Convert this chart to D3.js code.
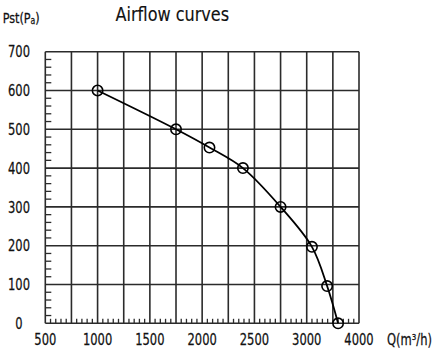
<!DOCTYPE html>
<html><head><meta charset="utf-8">
<script src="https://cdn.jsdelivr.net/npm/d3@7"></script>
<style>
html,body{margin:0;padding:0;background:#fff;}
svg{display:block;}
text{font-family:"DejaVu Sans",sans-serif;font-stretch:condensed;fill:#111;stroke:#111;stroke-width:0.25;}
</style></head>
<body>
<svg id="c" width="440" height="358"></svg>
<script>
// Data
const flowQ = [1000, 1750, 2070, 2390, 2750, 3100, 3390, 3600];   // m³/h
const pressure = [600, 500, 453, 400, 300, 197, 96, 0];          // Pa
const xTickLabels = [500, 1000, 1500, 2000, 2500, 3000, 4000];
const yTickLabels = [0, 100, 200, 300, 400, 500, 600, 700];
const xGridValues = [500, 750, 1000, 1250, 1500, 1750, 2000, 2250, 2500, 2750, 3000, 3500, 4000];
const titleText = "Airflow curves";

const svg = d3.select("#c");
const L = 45.3, R = 359, T = 51.7, B = 323.3;
const step = (R - L) / 12;
// Axis as drawn: 250 per division up to 3000, then 500 per division
const x = d3.scaleLinear().domain([500, 3000, 4000]).range([L, L + 10 * step, R]);
const y = d3.scaleLinear().domain([0, 700]).range([B, T]);

const gridColor = "#2b2b2b";
const g = svg.append("g");

// minor ticks on y (every 20)
const yMinor = d3.range(0, 700, 20).filter(v => v % 100 !== 0);
g.selectAll(".ym").data(yMinor).join("line")
  .attr("x1", L).attr("x2", L + 6)
  .attr("y1", d => y(d)).attr("y2", d => y(d))
  .attr("stroke", gridColor).attr("stroke-width", 1.3);

// minor ticks on x (4 per division)
const xMinor = [];
for (let i = 0; i < xGridValues.length - 1; i++) {
  const a = xGridValues[i], b = xGridValues[i + 1];
  for (let k = 1; k < 5; k++) xMinor.push(a + (b - a) * k / 5);
}
g.selectAll(".xm").data(xMinor).join("line")
  .attr("x1", d => x(d)).attr("x2", d => x(d))
  .attr("y1", B).attr("y2", B - 4.5)
  .attr("stroke", gridColor).attr("stroke-width", 1.3);

// grid lines
g.selectAll(".vg").data(xGridValues).join("line")
  .attr("x1", d => x(d)).attr("x2", d => x(d))
  .attr("y1", T).attr("y2", B)
  .attr("stroke", gridColor).attr("stroke-width", 1.6);
g.selectAll(".hg").data(yTickLabels).join("line")
  .attr("x1", L).attr("x2", R)
  .attr("y1", d => y(d)).attr("y2", d => y(d))
  .attr("stroke", gridColor).attr("stroke-width", 1.6);

// tick labels
const sx = 0.8;
g.selectAll(".yl").data(yTickLabels).join("text")
  .attr("transform", d => `translate(19,${y(d) + 5.6}) scale(${sx},1)`)
  .attr("text-anchor", "middle").attr("font-size", 16)
  .text(d => d);
g.selectAll(".xl").data(xTickLabels).join("text")
  .attr("transform", d => `translate(${x(d)},${345}) scale(${sx},1)`)
  .attr("text-anchor", "middle").attr("font-size", 16)
  .text(d => d);

// axis titles
svg.append("text")
  .attr("transform", `translate(387,345) scale(${sx},1)`)
  .attr("font-size", 16).text("Q(m³/h)");
const pt = svg.append("text")
  .attr("transform", `translate(2.7,22.8) scale(0.86,1)`)
  .attr("font-size", 14.5);
pt.append("tspan").text("Pst(P");
pt.append("tspan").attr("font-size", 10).attr("dy", 1).text("a");
pt.append("tspan").attr("dy", -1).text(")");

// title
svg.append("text")
  .attr("transform", `translate(115.5,20.7) scale(0.94,1)`)
  .attr("font-size", 19).attr("style", "stroke-width:0.15").text(titleText);

// curve
const pts = flowQ.map((q, i) => [x(q), y(pressure[i])]);
svg.append("path")
  .attr("d", d3.line().curve(d3.curveCatmullRom.alpha(0.5))(pts))
  .attr("fill", "none").attr("stroke", "#000").attr("stroke-width", 1.8);
svg.selectAll(".pt").data(pts).join("circle")
  .attr("cx", d => d[0]).attr("cy", d => d[1]).attr("r", 5.2)
  .attr("fill", "none").attr("stroke", "#000").attr("stroke-width", 1.6);
</script>
</body></html>
